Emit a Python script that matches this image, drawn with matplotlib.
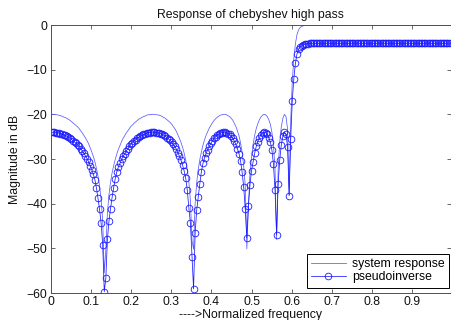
import numpy as np
import matplotlib
matplotlib.use("Agg")
import matplotlib.pyplot as plt

# Magnitude (dB) of the designed Chebyshev high-pass filter, 256 samples over [0, 1)
sys_db = [
    -20.0, -20.0, -20.0, -20.1, -20.1, -20.2, -20.3, -20.4,
    -20.6, -20.7, -20.9, -21.1, -21.3, -21.6, -21.9, -22.2,
    -22.5, -22.8, -23.2, -23.7, -24.2, -24.7, -25.3, -25.9,
    -26.6, -27.5, -28.4, -29.4, -30.6, -32.1, -33.8, -36.0,
    -39.1, -43.9, -55.5, -50.3, -42.1, -38.0, -35.2, -33.1,
    -31.5, -30.1, -28.9, -27.8, -27.0, -26.1, -25.4, -24.8,
    -24.2, -23.7, -23.2, -22.7, -22.4, -22.0, -21.7, -21.4,
    -21.1, -20.9, -20.7, -20.5, -20.4, -20.2, -20.1, -20.1,
    -20.0, -20.0, -20.0, -20.1, -20.1, -20.2, -20.3, -20.5,
    -20.7, -20.9, -21.2, -21.5, -21.8, -22.2, -22.7, -23.2,
    -23.8, -24.6, -25.4, -26.3, -27.4, -28.7, -30.3, -32.4,
    -35.1, -39.4, -48.3, -50.2, -40.0, -35.3, -32.3, -30.1,
    -28.4, -26.9, -25.7, -24.7, -23.9, -23.1, -22.5, -21.9,
    -21.4, -21.0, -20.7, -20.4, -20.2, -20.1, -20.0, -20.0,
    -20.1, -20.3, -20.5, -20.9, -21.3, -22.0, -22.7, -23.7,
    -24.8, -26.4, -28.5, -31.5, -36.2, -50.1, -40.6, -33.3,
    -29.5, -26.7, -24.7, -23.2, -22.1, -21.2, -20.6, -20.2,
    -20.0, -20.1, -20.5, -21.2, -22.2, -24.0, -26.9, -32.3,
    -48.0, -32.3, -26.2, -22.8, -20.9, -20.0, -20.5, -23.3,
    -38.0, -21.5, -12.7, -7.5, -4.2, -2.2, -1.1, -0.6,
    -0.3, -0.2, -0.1, -0.1,
    0.0, 0.0, 0.0, 0.0, 0.0, 0.0, 0.0, 0.0, 0.0, 0.0,
    0.0, 0.0, 0.0, 0.0, 0.0, 0.0, 0.0, 0.0, 0.0, 0.0,
    0.0, 0.0, 0.0, 0.0, 0.0, 0.0, 0.0, 0.0, 0.0, 0.0,
    0.0, 0.0, 0.0, 0.0, 0.0, 0.0, 0.0, 0.0, 0.0, 0.0,
    0.0, 0.0, 0.0, 0.0, 0.0, 0.0, 0.0, 0.0, 0.0, 0.0,
    0.0, 0.0, 0.0, 0.0, 0.0, 0.0, 0.0, 0.0, 0.0, 0.0,
    0.0, 0.0, 0.0, 0.0, 0.0, 0.0, 0.0, 0.0, 0.0, 0.0,
    0.0, 0.0, 0.0, 0.0, 0.0, 0.0, 0.0, 0.0, 0.0, 0.0,
    0.0, 0.0, 0.0, 0.0, 0.0, 0.0, 0.0, 0.0, 0.0, 0.0,
    0.0, 0.0,
]

# Magnitude (dB) of the pseudoinverse approximation, same sampling
pinv_db = [
    -24.0, -24.0, -24.0, -24.1, -24.1, -24.2, -24.3, -24.4,
    -24.6, -24.7, -24.9, -25.1, -25.3, -25.6, -25.9, -26.2,
    -26.5, -26.8, -27.2, -27.7, -28.2, -28.7, -29.3, -29.9,
    -30.6, -31.5, -32.4, -33.4, -34.6, -36.5, -38.8, -41.3,
    -44.4, -49.2, -59.7, -56.7, -48.0, -43.9, -41.1, -38.6,
    -36.4, -34.4, -32.9, -31.8, -31.0, -30.1, -29.4, -28.8,
    -28.2, -27.7, -27.2, -26.7, -26.4, -26.0, -25.7, -25.4,
    -25.1, -24.9, -24.7, -24.5, -24.4, -24.2, -24.1, -24.1,
    -24.0, -24.0, -24.0, -24.1, -24.1, -24.2, -24.3, -24.5,
    -24.7, -24.9, -25.2, -25.5, -25.8, -26.2, -26.7, -27.2,
    -27.8, -28.6, -29.4, -30.3, -31.4, -32.7, -34.3, -37.0,
    -41.0, -44.4, -52.0, -59.1, -46.6, -41.4, -38.4, -35.5,
    -32.8, -31.0, -29.7, -28.7, -27.9, -27.1, -26.5, -25.9,
    -25.4, -25.0, -24.7, -24.4, -24.2, -24.1, -24.0, -24.0,
    -24.1, -24.3, -24.5, -24.9, -25.3, -26.0, -26.7, -27.7,
    -28.8, -30.4, -33.0, -36.3, -41.2, -47.6, -40.5, -35.8,
    -32.6, -30.6, -28.7, -27.2, -26.1, -25.2, -24.6, -24.2,
    -24.0, -24.1, -24.5, -25.2, -26.2, -28.0, -31.2, -37.0,
    -47.0, -35.5, -30.2, -26.8, -24.9, -24.0, -24.5, -27.3,
    -38.2, -25.5, -17.0, -12.0, -8.6, -6.5, -5.4, -4.9,
    -4.6, -4.4, -4.3, -4.2, -4.15,
    -4.1, -4.1, -4.1, -4.1, -4.1, -4.1, -4.1, -4.1, -4.1, -4.1,
    -4.1, -4.1, -4.1, -4.1, -4.1, -4.1, -4.1, -4.1, -4.1, -4.1,
    -4.1, -4.1, -4.1, -4.1, -4.1, -4.1, -4.1, -4.1, -4.1, -4.1,
    -4.1, -4.1, -4.1, -4.1, -4.1, -4.1, -4.1, -4.1, -4.1, -4.1,
    -4.1, -4.1, -4.1, -4.1, -4.1, -4.1, -4.1, -4.1, -4.1, -4.1,
    -4.1, -4.1, -4.1, -4.1, -4.1, -4.1, -4.1, -4.1, -4.1, -4.1,
    -4.1, -4.1, -4.1, -4.1, -4.1, -4.1, -4.1, -4.1, -4.1, -4.1,
    -4.1, -4.1, -4.1, -4.1, -4.1, -4.1, -4.1, -4.1, -4.1, -4.1,
    -4.1, -4.1, -4.1, -4.1, -4.1, -4.1, -4.1, -4.1, -4.1, -4.1,
    -4.1,
]

n_fft = 256
series_labels = ["system response", "pseudoinverse"]
x_ticks = [0, 0.1, 0.2, 0.3, 0.4, 0.5, 0.6, 0.7, 0.8, 0.9]
x_tick_labels = ["0", "0.1", "0.2", "0.3", "0.4", "0.5", "0.6", "0.7", "0.8", "0.9"]
y_ticks = [-60, -50, -40, -30, -20, -10, 0]

freq_sys = np.arange(len(sys_db)) / n_fft
freq_pinv = np.arange(len(pinv_db)) / n_fft

plt.rcParams["font.family"] = ["Liberation Sans", "DejaVu Sans"]
FS = 8.8

fig = plt.figure(figsize=(4.51, 3.2), dpi=100)
ax = fig.add_axes([51 / 451, 27 / 320, 399.5 / 451, 268 / 320])

ax.plot(freq_sys, sys_db, color="#5a5aff", lw=0.55, label=series_labels[0])
ax.plot(freq_pinv, pinv_db, color="#1a1aff", lw=0.55, marker="o", ms=4.8,
        mfc="none", mew=0.6, label=series_labels[1])

ax.set_xlim(0, 255 / 256)
ax.set_ylim(-60, 0)
ax.set_xticks(x_ticks)
ax.set_xticklabels(x_tick_labels)
ax.set_yticks(y_ticks)

ax.tick_params(direction="in", top=True, right=True, length=3.2, width=0.6,
               color="#505050", labelsize=FS, labelcolor="#111111", pad=2.5)
for sp in ax.spines.values():
    sp.set_color("#505050")
    sp.set_linewidth(0.7)

ax.set_title("Response of chebyshev high pass", fontsize=FS, pad=5, color="#111111")
ax.set_xlabel("---->Normalized frequency", fontsize=FS, va="top", color="#111111")
ax.xaxis.set_label_coords(0.5, -0.058)
ax.set_ylabel("Magnitude in dB", fontsize=FS, color="#111111")
ax.yaxis.set_label_coords(-0.075, 0.5)

leg = ax.legend(loc="lower right", bbox_to_anchor=(0.997, 0.02), borderaxespad=0,
                fontsize=FS, frameon=True, fancybox=False, edgecolor="black",
                handlelength=2.85, handletextpad=0.55, labelspacing=0.1,
                borderpad=0.35, framealpha=1)
leg.get_frame().set_linewidth(0.7)

fig.savefig("out.png", dpi=100)
